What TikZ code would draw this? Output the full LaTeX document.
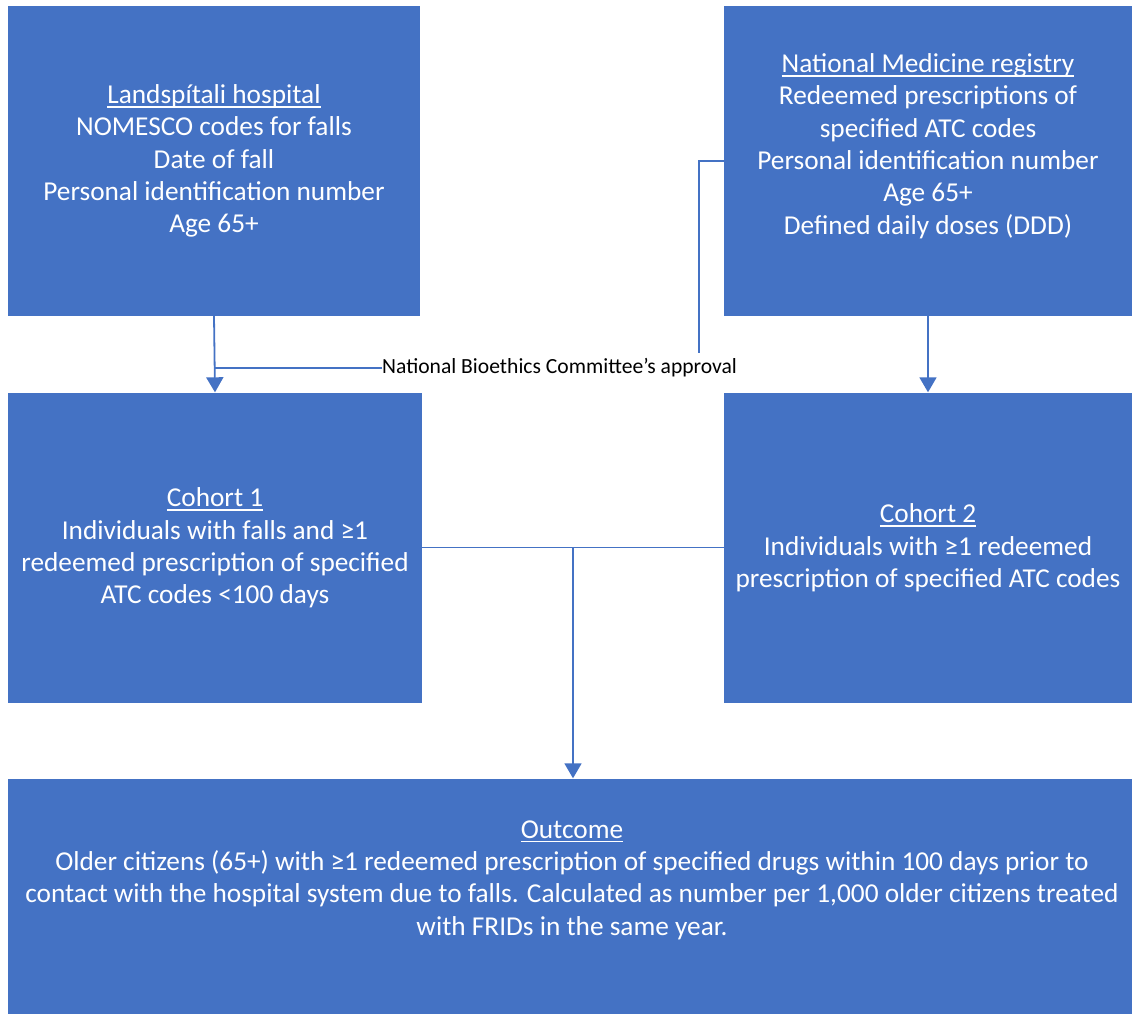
\documentclass[tikz,border=0pt]{standalone}
\usepackage{fontspec}
\setmainfont{Carlito}
\usetikzlibrary{arrows.meta}
\definecolor{boxblue}{HTML}{4472C4}
\definecolor{linkblue}{HTML}{4472C4}
% underline drawn at a fixed depth below the baseline
\newcommand\ulx[1]{\setbox0\hbox{#1}\rlap{\rule[-0.15em]{\wd0}{0.06em}}\box0}
\tikzset{
  panel/.style={fill=boxblue, draw=none, inner sep=0pt},
  paneltext/.style={text=white, align=center, inner sep=0pt,
    font=\fontsize{27.3}{32.3}\selectfont},
  link/.style={draw=linkblue, line width=1.8pt},
  arrowlink/.style={link, -{Triangle[width=17pt,length=15pt]}},
}
\begin{document}
\begin{tikzpicture}[x=1pt,y=-1pt]
  \useasboundingbox (0,0) rectangle (1132,1014);
  % boxes
  \node[panel, minimum width=412pt, minimum height=310pt] (hosp) at (214,161) {};
  \node[panel, minimum width=408pt, minimum height=310pt] (reg) at (928,161) {};
  \node[panel, minimum width=414pt, minimum height=310pt] (coh1) at (215,547.5) {};
  \node[panel, minimum width=408pt, minimum height=310pt] (coh2) at (928,547.5) {};
  \node[panel, minimum width=1124pt, minimum height=236pt] (out) at (570,896.5) {};
  % box texts
  \node[paneltext] (hospt) at (214,161) {\ulx{Landspítali hospital}\\NOMESCO codes for falls\\Date of fall\\Personal identification number\\Age 65+};
  \node[paneltext] (regt) at (928,146) {\ulx{National Medicine registry}\\Redeemed prescriptions of\\specified ATC codes\\Personal identification number\\Age 65+\\Defined daily doses (DDD)};
  \node[paneltext] (coh1t) at (215,548) {\ulx{Cohort 1}\\Individuals with falls and ≥1\\redeemed prescription of specified\\ATC codes <100 days};
  \node[paneltext] (coh2t) at (928,548) {\ulx{Cohort 2}\\Individuals with ≥1 redeemed\\prescription of specified ATC codes};
  \node[paneltext] (outt) at (572,880) {\ulx{Outcome}\\Older citizens (65+) with ≥1 redeemed prescription of specified drugs within 100 days prior to\\contact with the hospital system due to falls. Calculated as number per 1,000 older citizens treated\\with FRIDs in the same year.};
  % approval label
  \node[inner sep=0pt, font=\fontsize{21.6}{24}\selectfont, anchor=west] (approval) at (382,368) {National Bioethics Committee’s approval};
  \coordinate (bend) at (699,353);
  \coordinate (join) at (573,548);
  % connectors
  \draw[arrowlink] (hosp.south) -- (coh1.north);
  \draw[link] (approval.west) -- (approval.west -| hosp.south);
  \draw[link] (reg.west) -| (bend);
  \draw[arrowlink] (reg.south) -- (coh2.north);
  \draw[link] (coh1.east) -- (coh2.west);
  \draw[arrowlink] (join) -- (join |- out.north);
\end{tikzpicture}
\end{document}
